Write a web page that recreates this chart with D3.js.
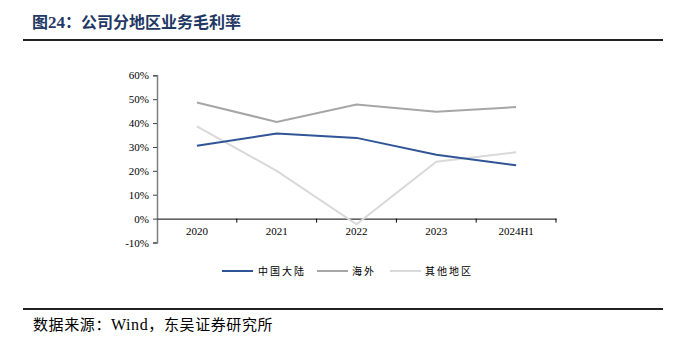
<!DOCTYPE html>
<html>
<head>
<meta charset="utf-8">
<script src="https://cdn.jsdelivr.net/npm/d3@7/dist/d3.min.js"></script>
<style>
  html, body { margin: 0; padding: 0; background: #fff; }
  svg { display: block; }
</style>
</head>
<body>
<svg id="chart" width="690" height="338"></svg>
<script>
const categories = ["2020", "2021", "2022", "2023", "2024H1"];
const mainland = [30.5, 35.6, 33.8, 26.7, 22.3];
const overseas = [48.6, 40.5, 47.8, 44.7, 46.7];
const others = [38.6, 20.0, -2.4, 23.8, 27.8];
const yTicks = [-10, 0, 10, 20, 30, 40, 50, 60];
const seriesNames = ["中国大陆", "海外", "其他地区"];
const seriesColors = ["#2F5597", "#A6A6A6", "#D9D9D9"];
const seriesData = [mainland, overseas, others];

const svg = d3.select("#chart");
const serif = "Liberation Serif, serif";
const cjk = "Noto Sans CJK SC, sans-serif";

// Title
const title = svg.append("text")
  .attr("x", 32).attr("y", 28)
  .attr("font-family", cjk)
  .attr("font-weight", "bold")
  .attr("font-size", 16)
  .attr("fill", "#1F3864");
title.append("tspan").text("图");
title.append("tspan").attr("font-family", serif).attr("font-size", 17).text("24");
title.append("tspan").text("：公司分地区业务毛利率");

svg.append("line")
  .attr("x1", 23).attr("x2", 663).attr("y1", 40).attr("y2", 40)
  .attr("stroke", "#222").attr("stroke-width", 2);

svg.append("line")
  .attr("x1", 23).attr("x2", 663).attr("y1", 309).attr("y2", 309)
  .attr("stroke", "#222").attr("stroke-width", 2);

const src = svg.append("text")
  .attr("x", 33).attr("y", 330)
  .attr("font-family", cjk)
  .attr("font-size", 15)
  .attr("letter-spacing", 0.6)
  .attr("fill", "#000");
src.append("tspan").text("数据来源：");
src.append("tspan").attr("font-family", serif).attr("font-size", 16).text("Wind");
src.append("tspan").text("，东吴证券研究所");

// Scales
const x = d3.scaleBand().domain(categories).range([157, 556]);
const y = d3.scaleLinear().domain([-10, 60]).range([242.5, 75.3]);

// Y axis
const yAxis = svg.append("g").attr("transform", "translate(157,0)")
  .call(d3.axisLeft(y).tickValues(yTicks).tickSize(4).tickFormat(d => d + "%"));
yAxis.attr("font-family", serif).attr("font-size", 11);
yAxis.select(".domain").attr("stroke", "#7F7F7F").attr("stroke-width", 1.5);
yAxis.selectAll(".tick line").attr("stroke", "#404040");
yAxis.selectAll(".tick text").attr("fill", "#000").attr("x", -8);

// X axis at zero
const xAxis = svg.append("g").attr("transform", `translate(0,${y(0)})`)
  .call(d3.axisBottom(x).tickSize(0).tickPadding(9));
xAxis.attr("font-family", serif).attr("font-size", 11);
xAxis.select(".domain").attr("stroke", "#000").attr("stroke-width", 1);
xAxis.selectAll(".tick text").attr("fill", "#000");
// boundary ticks
const bounds = categories.slice(1).map(c => x(c)).concat([x.range()[1]]);
xAxis.selectAll(".btick").data(bounds).enter().append("line")
  .attr("x1", d => d).attr("x2", d => d).attr("y1", 0).attr("y2", 4)
  .attr("stroke", "#000");

// Lines
const line = d3.line()
  .x((d, i) => x(categories[i]) + x.bandwidth() / 2)
  .y(d => y(d));

[2, 1, 0].forEach(k => {
  svg.append("path")
    .datum(seriesData[k])
    .attr("d", line)
    .attr("fill", "none")
    .attr("stroke", seriesColors[k])
    .attr("stroke-width", 2);
});

// Legend
const legendItems = [
  { x1: 222, x2: 253, tx: 258 },
  { x1: 317, x2: 348, tx: 352 },
  { x1: 390, x2: 421, tx: 425 }
];
legendItems.forEach((it, k) => {
  svg.append("line")
    .attr("x1", it.x1).attr("x2", it.x2).attr("y1", 271).attr("y2", 271)
    .attr("stroke", seriesColors[k]).attr("stroke-width", 2);
  svg.append("text")
    .attr("x", it.tx).attr("y", 275)
    .attr("font-family", cjk)
    .attr("font-size", 10)
    .attr("letter-spacing", 2)
    .attr("fill", "#000")
    .text(seriesNames[k]);
});
</script>
</body>
</html>
